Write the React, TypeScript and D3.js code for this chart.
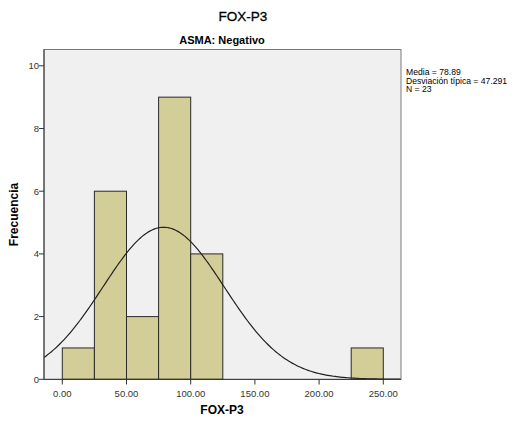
import React from "react";
import * as d3 from "d3";

const binStarts = [0, 25, 50, 75, 100, 225];
const binCounts = [1, 6, 2, 9, 4, 1];
const binWidth = 25;
const xTicks = [0, 50, 100, 150, 200, 250];
const yTicks = [0, 2, 4, 6, 8, 10];
const mean = 78.89;
const sd = 47.291;
const n = 23;
const legendLines = ["Media = 78.89", "Desviación típica = 47.291", "N = 23"];

export default function App() {
  const W = 519, H = 422;
  const left = 44, right = 401, top = 49.5, bottom = 379.5;
  const x = d3.scaleLinear().domain([0, 250]).range([62.3, 383.3]);
  const y = d3.scaleLinear().domain([0, 10]).range([379.3, 65.8]);
  const xmin = x.invert(left), xmax = x.invert(right);
  const pts = d3.range(xmin, xmax + 0.01, (xmax - xmin) / 200).map((v) => {
    const d = (n * binWidth) / (sd * Math.sqrt(2 * Math.PI)) * Math.exp(-0.5 * ((v - mean) / sd) ** 2);
    return [v, d] as [number, number];
  });
  const line = d3.line<[number, number]>().x((d) => x(d[0])).y((d) => y(d[1])).curve(d3.curveLinear);
  const font = "Arial, Liberation Sans, sans-serif";
  return (
    <svg width={W} height={H} style={{ position: "absolute", left: 0, top: 0 }} fontFamily={font}>
      <rect x={0} y={0} width={W} height={H} fill="#fff" />
      <text x={243} y={21} textAnchor="middle" fontSize={13.5} fill="#000" stroke="#000" strokeWidth={0.3}>FOX-P3</text>
      <text x={222} y={44} textAnchor="middle" fontSize={11} fontWeight="bold" fill="#000">ASMA: Negativo</text>
      <rect x={left} y={top} width={right - left} height={bottom - top} fill="#f0f0f0" stroke="#7a7a7a" strokeWidth={1} />
      <clipPath id="pc"><rect x={left} y={top} width={right - left} height={bottom - top} /></clipPath>
      {binStarts.map((s, i) => (
        <rect key={i} x={x(s)} y={y(binCounts[i])} width={x(s + binWidth) - x(s)} height={y(0) - y(binCounts[i])}
          fill="#d3ce97" stroke="#2a2a2a" strokeWidth={1} />
      ))}
      <path d={line(pts) || ""} fill="none" stroke="#222" strokeWidth={1.2} clipPath="url(#pc)" />
      <line x1={left} x2={right} y1={y(0)} y2={y(0)} stroke="#333" strokeWidth={1} />
      <line x1={left} x2={left} y1={top} y2={bottom} stroke="#333" strokeWidth={1} />
      {yTicks.map((t) => (
        <g key={t}>
          <line x1={left - 5} x2={left} y1={y(t)} y2={y(t)} stroke="#333" />
          <text x={left - 5} y={y(t) + 3.5} textAnchor="end" fontSize={9.5} fill="#333">{t}</text>
        </g>
      ))}
      {xTicks.map((t) => (
        <g key={t}>
          <line x1={x(t)} x2={x(t)} y1={bottom} y2={bottom + 5} stroke="#333" />
          <text x={x(t)} y={bottom + 17} textAnchor="middle" fontSize={9.5} fill="#333">{t.toFixed(2)}</text>
        </g>
      ))}
      <text x={222} y={414} textAnchor="middle" fontSize={12} fontWeight="bold" fill="#000">FOX-P3</text>
      <text transform={`translate(18,${(top + bottom) / 2}) rotate(-90)`} textAnchor="middle" fontSize={12} fontWeight="bold" fill="#000">Frecuencia</text>
      {legendLines.map((l, i) => (
        <text key={i} x={406} y={75 + i * 8.5} fontSize={8.6} fill="#000">{l}</text>
      ))}
    </svg>
  );
}
